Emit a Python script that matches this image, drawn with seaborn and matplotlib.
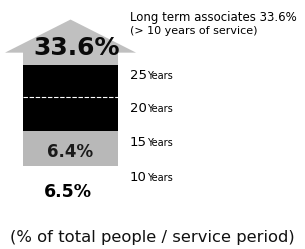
import pandas as pd
import seaborn as sns
import matplotlib.pyplot as plt
from matplotlib.patches import Polygon

# dados (% do total de pessoas por tempo de serviço)
segmentos = ["10 Years", "15 Years", "20 Years", "25 Years"]
valores = [6.5, 6.4, 6.3, 5.9]
rotulos = ["6.5%", "6.4%", "", ""]
total_longo = 33.6
titulo_1 = "Long term associates 33.6%"
titulo_2 = "(> 10 years of service)"
legenda = "(% of total people / service period)"

df = pd.DataFrame({"seg": segmentos, "val": valores})
df["topo"] = df["val"].cumsum()
df["base"] = df["topo"] - df["val"]

cores = {"10 Years": "white", "15 Years": "#b8b8b8", "20 Years": "black", "25 Years": "black"}

sns.set_theme(style="white")
plt.rcParams['font.family'] = ['DejaVu Sans']

fig = plt.figure(figsize=(3.05, 2.49), dpi=100)
ax = fig.add_axes([0, 0, 1, 1])

# seta (acima de 25 anos) até o total
topo_barra = df["topo"].iloc[-1]
w = 0.4
asa = 0.552
base_cabeca = topo_barra + 0.22 * (total_longo - topo_barra) + 0.5
seta = Polygon([(-w, topo_barra), (-w, base_cabeca), (-asa, base_cabeca), (0, total_longo),
                (asa, base_cabeca), (w, base_cabeca), (w, topo_barra)],
               closed=True, facecolor="#c0c0c0", edgecolor="none")
ax.add_patch(seta)

# barras empilhadas (cumulativas, da maior para a menor)
for i in range(len(df) - 1, -1, -1):
    linha = df.iloc[i]
    sns.barplot(x=[0], y=[linha["topo"]], color=cores[linha["seg"]], saturation=1,
                width=0.8, ax=ax, native_scale=True, edgecolor="none", linewidth=0)

# linha tracejada entre 20 e 25 anos
ax.hlines(df["base"].iloc[3], -w, w, colors="white", linestyles=(0, (4, 1.5)), lw=0.8)

# rótulos nas barras
ax.text(0.0, df["base"].iloc[1] + df["val"].iloc[1] * 0.4, rotulos[1], ha="center", va="center",
        fontsize=12, fontweight="bold", color="#1a1a1a")
ax.text(-0.02, df["base"].iloc[0] + df["val"].iloc[0] * 0.25, rotulos[0], ha="center", va="center",
        fontsize=12.5, fontweight="bold", color="black")
ax.text(0.05, topo_barra + 0.38 * (total_longo - topo_barra), f"{total_longo}%", ha="center", va="center",
        fontsize=18, fontweight="bold", color="#0a0a0a")

# rótulos de anos à direita
for i, seg in enumerate(segmentos):
    num, resto = seg.split(" ")
    y = df["base"].iloc[i] + df["val"].iloc[i] * 0.68
    ax.text(0.5, y, num, ha="left", va="center", fontsize=9.5, color="black")
    ax.text(0.645, y - 0.1, resto, ha="left", va="center", fontsize=7, color="black")

ax.text(0.5, total_longo + 0.3, titulo_1, ha="left", va="center", fontsize=8.5, color="black")
ax.text(0.5, total_longo - 2.1, titulo_2, ha="left", va="center", fontsize=8, color="black")
ax.text(0.686, -6.8, legenda, ha="center", va="center", fontsize=11.8, color="#111111")

ax.set_xlim(-0.594, 1.975)
ax.set_ylim(-8.89, 37.22)
ax.axis("off")

plt.savefig("out.png", dpi=100)
